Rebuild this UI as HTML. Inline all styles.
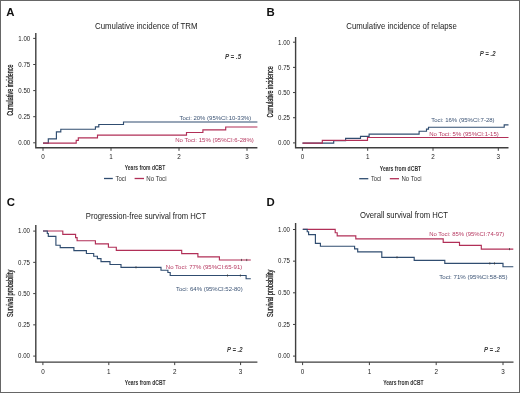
<!DOCTYPE html>
<html><head><meta charset="utf-8"><style>
html,body{margin:0;padding:0;background:#fff;}
body{width:520px;height:393px;overflow:hidden;position:relative;}
svg{position:absolute;left:0;top:0;will-change:transform;font-family:"Liberation Sans", sans-serif;}
.frame{position:absolute;left:0;top:0;width:518px;height:391px;border:1px solid #666;}
</style></head><body>
<svg width="520" height="393" viewBox="0 0 520 393">
<path d="M35.8,33V147.8H257.4" stroke="#3f3f3f" stroke-width="1.4" fill="none" stroke-linejoin="miter"/>
<line x1="33.199999999999996" y1="142.80" x2="35.8" y2="142.80" stroke="#3f3f3f" stroke-width="1"/>
<text x="30.2" y="145.10" font-size="6.5" fill="#222" text-anchor="end" font-weight="normal" font-style="normal" textLength="11.9" lengthAdjust="spacingAndGlyphs" >0.00</text>
<line x1="33.199999999999996" y1="116.70" x2="35.8" y2="116.70" stroke="#3f3f3f" stroke-width="1"/>
<text x="30.2" y="119.00" font-size="6.5" fill="#222" text-anchor="end" font-weight="normal" font-style="normal" textLength="11.9" lengthAdjust="spacingAndGlyphs" >0.25</text>
<line x1="33.199999999999996" y1="90.60" x2="35.8" y2="90.60" stroke="#3f3f3f" stroke-width="1"/>
<text x="30.2" y="92.90" font-size="6.5" fill="#222" text-anchor="end" font-weight="normal" font-style="normal" textLength="11.9" lengthAdjust="spacingAndGlyphs" >0.50</text>
<line x1="33.199999999999996" y1="64.50" x2="35.8" y2="64.50" stroke="#3f3f3f" stroke-width="1"/>
<text x="30.2" y="66.80" font-size="6.5" fill="#222" text-anchor="end" font-weight="normal" font-style="normal" textLength="11.9" lengthAdjust="spacingAndGlyphs" >0.75</text>
<line x1="33.199999999999996" y1="38.40" x2="35.8" y2="38.40" stroke="#3f3f3f" stroke-width="1"/>
<text x="30.2" y="40.70" font-size="6.5" fill="#222" text-anchor="end" font-weight="normal" font-style="normal" textLength="11.9" lengthAdjust="spacingAndGlyphs" >1.00</text>
<line x1="43.00" y1="147.8" x2="43.00" y2="150.8" stroke="#3f3f3f" stroke-width="1"/>
<text x="43.00" y="159.3" font-size="6.3" fill="#222" text-anchor="middle" font-weight="normal" font-style="normal" >0</text>
<line x1="111.00" y1="147.8" x2="111.00" y2="150.8" stroke="#3f3f3f" stroke-width="1"/>
<text x="111.00" y="159.3" font-size="6.3" fill="#222" text-anchor="middle" font-weight="normal" font-style="normal" >1</text>
<line x1="179.00" y1="147.8" x2="179.00" y2="150.8" stroke="#3f3f3f" stroke-width="1"/>
<text x="179.00" y="159.3" font-size="6.3" fill="#222" text-anchor="middle" font-weight="normal" font-style="normal" >2</text>
<line x1="247.00" y1="147.8" x2="247.00" y2="150.8" stroke="#3f3f3f" stroke-width="1"/>
<text x="247.00" y="159.3" font-size="6.3" fill="#222" text-anchor="middle" font-weight="normal" font-style="normal" >3</text>
<text x="6.3" y="15.9" font-size="11.4" fill="#111" text-anchor="start" font-weight="bold" font-style="normal" >A</text>
<text x="95" y="29.1" font-size="8.4" fill="#222" text-anchor="start" font-weight="normal" font-style="normal" textLength="102.5" lengthAdjust="spacingAndGlyphs" >Cumulative incidence of TRM</text>
<text transform="translate(13,90.2) rotate(-90)" x="0" y="0" font-size="8.4" font-weight="normal" fill="#1e1e1e" stroke="#1e1e1e" stroke-width="0.3" text-anchor="middle" textLength="51.2" lengthAdjust="spacingAndGlyphs">Cumulative incidence</text>
<text x="124.8" y="170.1" font-size="7.8" fill="#333" text-anchor="start" font-weight="bold" font-style="normal" textLength="40.4" lengthAdjust="spacingAndGlyphs" >Years from dCBT</text>
<text x="224.9" y="59.0" font-size="6.4" fill="#3a3a3a" text-anchor="start" font-weight="bold" font-style="italic" textLength="16.2" lengthAdjust="spacingAndGlyphs" >P = .5</text>
<path d="M43,143.10H48.3V138.80H56.4V131.90H60.8V129.20H95.4V126.80H98.8V124.50H123.5V122.00H257.4" stroke="#304d70" stroke-width="1.15" fill="none"/>
<path d="M43,143.10H76.2V140.30H78.3V137.80H97.5V135.10H186.5V132.50H202.9V129.90H225.7V127.00H257.4" stroke="#b12f57" stroke-width="1.15" fill="none"/>
<text x="179.5" y="120" font-size="6.1" fill="#3b5374" text-anchor="start" font-weight="normal" font-style="normal" textLength="71.8" lengthAdjust="spacingAndGlyphs" >Toci: 20% (95%CI:10-33%)</text>
<text x="175.2" y="142" font-size="6.1" fill="#b63860" text-anchor="start" font-weight="normal" font-style="normal" textLength="78.7" lengthAdjust="spacingAndGlyphs" >No Toci: 15% (95%CI:6-28%)</text>
<line x1="104" y1="178.5" x2="112.8" y2="178.5" stroke="#304d70" stroke-width="1.3"/>
<text x="115.5" y="181" font-size="7" fill="#333333" text-anchor="start" font-weight="normal" font-style="normal" textLength="10.6" lengthAdjust="spacingAndGlyphs" >Toci</text>
<line x1="134.6" y1="178.5" x2="144" y2="178.5" stroke="#b12f57" stroke-width="1.3"/>
<text x="146.3" y="181" font-size="7" fill="#333333" text-anchor="start" font-weight="normal" font-style="normal" textLength="20.2" lengthAdjust="spacingAndGlyphs" >No Toci</text>
<path d="M295.6,37V147.8H508.5" stroke="#3f3f3f" stroke-width="1.4" fill="none" stroke-linejoin="miter"/>
<line x1="293.0" y1="142.90" x2="295.6" y2="142.90" stroke="#3f3f3f" stroke-width="1"/>
<text x="290" y="145.20" font-size="6.3" fill="#222" text-anchor="end" font-weight="normal" font-style="normal" textLength="11.9" lengthAdjust="spacingAndGlyphs" >0.00</text>
<line x1="293.0" y1="117.73" x2="295.6" y2="117.73" stroke="#3f3f3f" stroke-width="1"/>
<text x="290" y="120.03" font-size="6.3" fill="#222" text-anchor="end" font-weight="normal" font-style="normal" textLength="11.9" lengthAdjust="spacingAndGlyphs" >0.25</text>
<line x1="293.0" y1="92.55" x2="295.6" y2="92.55" stroke="#3f3f3f" stroke-width="1"/>
<text x="290" y="94.85" font-size="6.3" fill="#222" text-anchor="end" font-weight="normal" font-style="normal" textLength="11.9" lengthAdjust="spacingAndGlyphs" >0.50</text>
<line x1="293.0" y1="67.38" x2="295.6" y2="67.38" stroke="#3f3f3f" stroke-width="1"/>
<text x="290" y="69.67" font-size="6.3" fill="#222" text-anchor="end" font-weight="normal" font-style="normal" textLength="11.9" lengthAdjust="spacingAndGlyphs" >0.75</text>
<line x1="293.0" y1="42.20" x2="295.6" y2="42.20" stroke="#3f3f3f" stroke-width="1"/>
<text x="290" y="44.50" font-size="6.3" fill="#222" text-anchor="end" font-weight="normal" font-style="normal" textLength="11.9" lengthAdjust="spacingAndGlyphs" >1.00</text>
<line x1="302.40" y1="147.8" x2="302.40" y2="150.8" stroke="#3f3f3f" stroke-width="1"/>
<text x="302.40" y="159.3" font-size="6.3" fill="#222" text-anchor="middle" font-weight="normal" font-style="normal" >0</text>
<line x1="367.70" y1="147.8" x2="367.70" y2="150.8" stroke="#3f3f3f" stroke-width="1"/>
<text x="367.70" y="159.3" font-size="6.3" fill="#222" text-anchor="middle" font-weight="normal" font-style="normal" >1</text>
<line x1="433.00" y1="147.8" x2="433.00" y2="150.8" stroke="#3f3f3f" stroke-width="1"/>
<text x="433.00" y="159.3" font-size="6.3" fill="#222" text-anchor="middle" font-weight="normal" font-style="normal" >2</text>
<line x1="498.30" y1="147.8" x2="498.30" y2="150.8" stroke="#3f3f3f" stroke-width="1"/>
<text x="498.30" y="159.3" font-size="6.3" fill="#222" text-anchor="middle" font-weight="normal" font-style="normal" >3</text>
<text x="266.6" y="15.9" font-size="11.4" fill="#111" text-anchor="start" font-weight="bold" font-style="normal" >B</text>
<text x="346.3" y="29.1" font-size="8.4" fill="#222" text-anchor="start" font-weight="normal" font-style="normal" textLength="110.5" lengthAdjust="spacingAndGlyphs" >Cumulative incidence of relapse</text>
<text transform="translate(272.9,91.8) rotate(-90)" x="0" y="0" font-size="8.4" font-weight="normal" fill="#1e1e1e" stroke="#1e1e1e" stroke-width="0.3" text-anchor="middle" textLength="51.2" lengthAdjust="spacingAndGlyphs">Cumulative incidence</text>
<text x="379.8" y="170.9" font-size="7.8" fill="#333" text-anchor="start" font-weight="bold" font-style="normal" textLength="41.4" lengthAdjust="spacingAndGlyphs" >Years from dCBT</text>
<text x="479.7" y="55.7" font-size="6.4" fill="#3a3a3a" text-anchor="start" font-weight="bold" font-style="italic" textLength="15.899999999999999" lengthAdjust="spacingAndGlyphs" >P = .2</text>
<path d="M302.5,143.1H333.7V140.6H345.6V138.3H360.5V136.3H369.1V134.1H419.1V131.2H426.5V129.1H428.5V127.2H504.2V124.8H508.5" stroke="#304d70" stroke-width="1.15" fill="none"/>
<path d="M302.5,143.1H322.3V140.4H367.5V137.5H508.5" stroke="#b12f57" stroke-width="1.15" fill="none"/>
<text x="431.2" y="121.5" font-size="6.1" fill="#3b5374" text-anchor="start" font-weight="normal" font-style="normal" textLength="63.4" lengthAdjust="spacingAndGlyphs" >Toci: 16% (95%CI:7-28)</text>
<text x="429.2" y="135.6" font-size="6.1" fill="#b63860" text-anchor="start" font-weight="normal" font-style="normal" textLength="69.6" lengthAdjust="spacingAndGlyphs" >No Toci: 5% (95%CI:1-15)</text>
<line x1="359.2" y1="178.7" x2="368.3" y2="178.7" stroke="#304d70" stroke-width="1.3"/>
<text x="370.9" y="180.9" font-size="7" fill="#333333" text-anchor="start" font-weight="normal" font-style="normal" textLength="10.4" lengthAdjust="spacingAndGlyphs" >Toci</text>
<line x1="389.8" y1="178.7" x2="399" y2="178.7" stroke="#b12f57" stroke-width="1.3"/>
<text x="401.5" y="180.9" font-size="7" fill="#333333" text-anchor="start" font-weight="normal" font-style="normal" textLength="20" lengthAdjust="spacingAndGlyphs" >No Toci</text>
<path d="M35.8,225V362.1H257.4" stroke="#3f3f3f" stroke-width="1.4" fill="none" stroke-linejoin="miter"/>
<line x1="33.199999999999996" y1="356.10" x2="35.8" y2="356.10" stroke="#3f3f3f" stroke-width="1"/>
<text x="30" y="358.40" font-size="6.3" fill="#222" text-anchor="end" font-weight="normal" font-style="normal" textLength="11.9" lengthAdjust="spacingAndGlyphs" >0.00</text>
<line x1="33.199999999999996" y1="324.85" x2="35.8" y2="324.85" stroke="#3f3f3f" stroke-width="1"/>
<text x="30" y="327.15" font-size="6.3" fill="#222" text-anchor="end" font-weight="normal" font-style="normal" textLength="11.9" lengthAdjust="spacingAndGlyphs" >0.25</text>
<line x1="33.199999999999996" y1="293.60" x2="35.8" y2="293.60" stroke="#3f3f3f" stroke-width="1"/>
<text x="30" y="295.90" font-size="6.3" fill="#222" text-anchor="end" font-weight="normal" font-style="normal" textLength="11.9" lengthAdjust="spacingAndGlyphs" >0.50</text>
<line x1="33.199999999999996" y1="262.35" x2="35.8" y2="262.35" stroke="#3f3f3f" stroke-width="1"/>
<text x="30" y="264.65" font-size="6.3" fill="#222" text-anchor="end" font-weight="normal" font-style="normal" textLength="11.9" lengthAdjust="spacingAndGlyphs" >0.75</text>
<line x1="33.199999999999996" y1="231.10" x2="35.8" y2="231.10" stroke="#3f3f3f" stroke-width="1"/>
<text x="30" y="233.40" font-size="6.3" fill="#222" text-anchor="end" font-weight="normal" font-style="normal" textLength="11.9" lengthAdjust="spacingAndGlyphs" >1.00</text>
<line x1="42.90" y1="362.1" x2="42.90" y2="365.1" stroke="#3f3f3f" stroke-width="1"/>
<text x="42.90" y="374" font-size="6.3" fill="#222" text-anchor="middle" font-weight="normal" font-style="normal" >0</text>
<line x1="108.80" y1="362.1" x2="108.80" y2="365.1" stroke="#3f3f3f" stroke-width="1"/>
<text x="108.80" y="374" font-size="6.3" fill="#222" text-anchor="middle" font-weight="normal" font-style="normal" >1</text>
<line x1="174.70" y1="362.1" x2="174.70" y2="365.1" stroke="#3f3f3f" stroke-width="1"/>
<text x="174.70" y="374" font-size="6.3" fill="#222" text-anchor="middle" font-weight="normal" font-style="normal" >2</text>
<line x1="240.60" y1="362.1" x2="240.60" y2="365.1" stroke="#3f3f3f" stroke-width="1"/>
<text x="240.60" y="374" font-size="6.3" fill="#222" text-anchor="middle" font-weight="normal" font-style="normal" >3</text>
<text x="6.7" y="206" font-size="11.4" fill="#111" text-anchor="start" font-weight="bold" font-style="normal" >C</text>
<text x="85.8" y="219.10000000000002" font-size="8.4" fill="#222" text-anchor="start" font-weight="normal" font-style="normal" textLength="120.3" lengthAdjust="spacingAndGlyphs" >Progression-free survival from HCT</text>
<text transform="translate(12.6,293.4) rotate(-90)" x="0" y="0" font-size="8.4" font-weight="normal" fill="#1e1e1e" stroke="#1e1e1e" stroke-width="0.3" text-anchor="middle" textLength="47.3" lengthAdjust="spacingAndGlyphs">Survival probability</text>
<text x="124.8" y="384.5" font-size="7.8" fill="#333" text-anchor="start" font-weight="bold" font-style="normal" textLength="40.9" lengthAdjust="spacingAndGlyphs" >Years from dCBT</text>
<text x="227.0" y="351.9" font-size="6.4" fill="#3a3a3a" text-anchor="start" font-weight="bold" font-style="italic" textLength="15.6" lengthAdjust="spacingAndGlyphs" >P = .2</text>
<path d="M43,231H62.8V234.3H75.6V237.6H77.1V240.7H95.4V243.9H108.4V247.2H116.3V250.4H181.7V253.6H197.9V256.8H219.4V260H250.8" stroke="#b12f57" stroke-width="1.15" fill="none"/>
<line x1="241.5" y1="258.9" x2="241.5" y2="261.1" stroke="#333" stroke-width="0.7"/>
<line x1="246.7" y1="258.9" x2="246.7" y2="261.1" stroke="#333" stroke-width="0.7"/>
<path d="M43,231H47.3V233.5H48.3V236.3H55.9V245.2H60.2V247.6H73.9V250.6H86.4V253.5H93.7V256.2H97.4V258.6H101V261.6H110V264.5H121V267.3H161V270.2H167.9V272.5H170.2V275.5H246.1V278.7H250.8" stroke="#304d70" stroke-width="1.15" fill="none"/>
<line x1="136" y1="266.2" x2="136" y2="268.40000000000003" stroke="#333" stroke-width="0.7"/>
<line x1="227.5" y1="274.4" x2="227.5" y2="276.6" stroke="#333" stroke-width="0.7"/>
<line x1="240.4" y1="274.4" x2="240.4" y2="276.6" stroke="#333" stroke-width="0.7"/>
<text x="165.8" y="269" font-size="6.1" fill="#b63860" text-anchor="start" font-weight="normal" font-style="normal" textLength="76.5" lengthAdjust="spacingAndGlyphs" >No Toci: 77% (95%CI:65-91)</text>
<text x="176" y="291.4" font-size="6.1" fill="#3b5374" text-anchor="start" font-weight="normal" font-style="normal" textLength="66.7" lengthAdjust="spacingAndGlyphs" >Toci: 64% (95%CI:52-80)</text>
<path d="M295.6,223V362.1H513.5" stroke="#3f3f3f" stroke-width="1.4" fill="none" stroke-linejoin="miter"/>
<line x1="293.0" y1="356.10" x2="295.6" y2="356.10" stroke="#3f3f3f" stroke-width="1"/>
<text x="290" y="358.40" font-size="6.3" fill="#222" text-anchor="end" font-weight="normal" font-style="normal" textLength="11.9" lengthAdjust="spacingAndGlyphs" >0.00</text>
<line x1="293.0" y1="324.45" x2="295.6" y2="324.45" stroke="#3f3f3f" stroke-width="1"/>
<text x="290" y="326.75" font-size="6.3" fill="#222" text-anchor="end" font-weight="normal" font-style="normal" textLength="11.9" lengthAdjust="spacingAndGlyphs" >0.25</text>
<line x1="293.0" y1="292.80" x2="295.6" y2="292.80" stroke="#3f3f3f" stroke-width="1"/>
<text x="290" y="295.10" font-size="6.3" fill="#222" text-anchor="end" font-weight="normal" font-style="normal" textLength="11.9" lengthAdjust="spacingAndGlyphs" >0.50</text>
<line x1="293.0" y1="261.15" x2="295.6" y2="261.15" stroke="#3f3f3f" stroke-width="1"/>
<text x="290" y="263.45" font-size="6.3" fill="#222" text-anchor="end" font-weight="normal" font-style="normal" textLength="11.9" lengthAdjust="spacingAndGlyphs" >0.75</text>
<line x1="293.0" y1="229.50" x2="295.6" y2="229.50" stroke="#3f3f3f" stroke-width="1"/>
<text x="290" y="231.80" font-size="6.3" fill="#222" text-anchor="end" font-weight="normal" font-style="normal" textLength="11.9" lengthAdjust="spacingAndGlyphs" >1.00</text>
<line x1="302.60" y1="362.1" x2="302.60" y2="365.1" stroke="#3f3f3f" stroke-width="1"/>
<text x="302.60" y="374" font-size="6.3" fill="#222" text-anchor="middle" font-weight="normal" font-style="normal" >0</text>
<line x1="369.40" y1="362.1" x2="369.40" y2="365.1" stroke="#3f3f3f" stroke-width="1"/>
<text x="369.40" y="374" font-size="6.3" fill="#222" text-anchor="middle" font-weight="normal" font-style="normal" >1</text>
<line x1="436.20" y1="362.1" x2="436.20" y2="365.1" stroke="#3f3f3f" stroke-width="1"/>
<text x="436.20" y="374" font-size="6.3" fill="#222" text-anchor="middle" font-weight="normal" font-style="normal" >2</text>
<line x1="503.00" y1="362.1" x2="503.00" y2="365.1" stroke="#3f3f3f" stroke-width="1"/>
<text x="503.00" y="374" font-size="6.3" fill="#222" text-anchor="middle" font-weight="normal" font-style="normal" >3</text>
<text x="266.6" y="205.6" font-size="11.4" fill="#111" text-anchor="start" font-weight="bold" font-style="normal" >D</text>
<text x="360" y="218.4" font-size="8.4" fill="#222" text-anchor="start" font-weight="normal" font-style="normal" textLength="88.0" lengthAdjust="spacingAndGlyphs" >Overall survival from HCT</text>
<text transform="translate(272.8,293.3) rotate(-90)" x="0" y="0" font-size="8.4" font-weight="normal" fill="#1e1e1e" stroke="#1e1e1e" stroke-width="0.3" text-anchor="middle" textLength="47.5" lengthAdjust="spacingAndGlyphs">Survival probability</text>
<text x="383.2" y="384.8" font-size="7.8" fill="#333" text-anchor="start" font-weight="bold" font-style="normal" textLength="40.4" lengthAdjust="spacingAndGlyphs" >Years from dCBT</text>
<text x="483.90000000000003" y="352.3" font-size="6.4" fill="#3a3a3a" text-anchor="start" font-weight="bold" font-style="italic" textLength="15.899999999999999" lengthAdjust="spacingAndGlyphs" >P = .2</text>
<path d="M302.8,229.3H335.2V232.7H337.2V235.8H355.8V238.9H443.2V242.3H459.5V245.4H481.3V249.1H513.3" stroke="#b12f57" stroke-width="1.15" fill="none"/>
<line x1="509.5" y1="248.0" x2="509.5" y2="250.2" stroke="#333" stroke-width="0.7"/>
<path d="M302.8,229.3H307.2V231.7H308.6V234.6H315.4V243.3H320.4V246.2H354.6V248.8H357.7V251.9H381.8V257.3H414.2V260.4H444.8V263.4H503V266.7H513.3" stroke="#304d70" stroke-width="1.15" fill="none"/>
<line x1="397" y1="256.2" x2="397" y2="258.40000000000003" stroke="#333" stroke-width="0.7"/>
<line x1="489.8" y1="262.29999999999995" x2="489.8" y2="264.5" stroke="#333" stroke-width="0.7"/>
<line x1="494.5" y1="262.29999999999995" x2="494.5" y2="264.5" stroke="#333" stroke-width="0.7"/>
<text x="429.2" y="235.7" font-size="6.1" fill="#b63860" text-anchor="start" font-weight="normal" font-style="normal" textLength="75.1" lengthAdjust="spacingAndGlyphs" >No Toci: 85% (95%CI:74-97)</text>
<text x="439.2" y="278.5" font-size="6.1" fill="#3b5374" text-anchor="start" font-weight="normal" font-style="normal" textLength="68.3" lengthAdjust="spacingAndGlyphs" >Toci: 71% (95%CI:58-85)</text>
</svg>
<div class="frame"></div>
</body></html>
